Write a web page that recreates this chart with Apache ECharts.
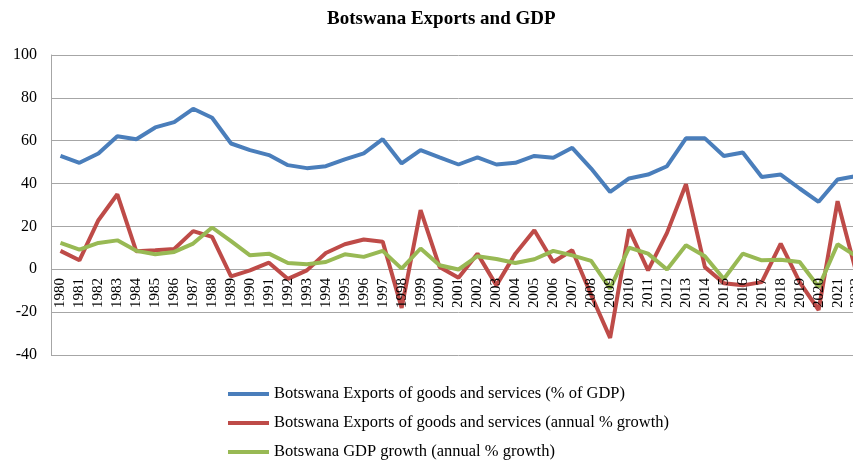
<!DOCTYPE html>
<html>
<head>
<meta charset="utf-8">
<style>html,body{margin:0;padding:0;background:#fff;overflow:hidden;width:853px;height:462px;}#c{width:866px;height:462px;}</style>
<script src="https://cdn.jsdelivr.net/npm/echarts@6/dist/echarts.min.js"></script>
</head>
<body>
<div id="c"></div>
<script>
const years = ['1980','1981','1982','1983','1984','1985','1986','1987','1988','1989','1990','1991','1992','1993','1994','1995','1996','1997','1998','1999','2000','2001','2002','2003','2004','2005','2006','2007','2008','2009','2010','2011','2012','2013','2014','2015','2016','2017','2018','2019','2020','2021','2022'];
const exportsPctGDP = [52.9,49.7,54.0,62.1,60.7,66.2,68.7,74.9,70.7,58.7,55.6,53.3,48.6,47.2,48.1,51.3,54.1,60.7,49.4,55.6,52.2,48.9,52.2,48.9,49.7,52.9,52.0,56.7,47.0,36.1,42.4,44.2,48.1,61.1,61.1,52.9,54.5,43.1,44.2,37.7,31.5,41.9,43.5];
const exportsGrowth = [8.6,4.2,22.9,35.0,8.4,8.9,9.5,17.8,15.1,-3.3,-0.5,3.1,-4.5,-0.5,7.6,11.7,13.9,12.9,-18.0,27.6,1.1,-4.0,7.3,-7.5,7.3,18.2,3.4,8.9,-12.0,-32.0,18.6,-0.5,17.0,39.7,1.0,-6.5,-7.5,-6.0,12.0,-6.0,-19.0,31.8,-2.0];
const gdpGrowth = [12.3,9.2,12.3,13.5,8.6,7.0,8.1,12.0,19.5,13.1,6.5,7.3,2.9,2.3,3.4,7.0,5.8,8.6,0.3,9.7,1.9,-0.1,6.1,4.8,2.9,4.7,8.6,6.5,3.9,-9.0,10.1,7.3,-0.1,11.2,6.1,-4.5,7.3,4.2,4.5,3.4,-8.3,11.7,6.0];
const seriesNames = ['Botswana Exports of goods and services (% of GDP)','Botswana Exports of goods and services (annual % growth)','Botswana GDP growth (annual % growth)'];
const colors = ['#4A7EBB','#BE4B48','#98B954'];
const font = 'Liberation Serif';
const chart = echarts.init(document.getElementById('c'), null, {renderer:'canvas', width:866, height:462});
const mk = (name, data, color) => ({
  name, type:'line', data, symbol:'none', smooth:false,
  lineStyle:{color, width:4}, itemStyle:{color}, z: 2
});
chart.setOption({
  animation:false,
  backgroundColor:'#fff',
  title:{text:'Botswana Exports and GDP', left:327, top:10, padding:0,
    textStyle:{fontFamily:font, fontSize:19, fontWeight:'bold', color:'#000'}},
  grid:{left:51, top:55, right:0, bottom:107, containLabel:false},
  legend:{orient:'vertical', left:228, top:385, padding:0, icon:'rect', itemWidth:41, itemHeight:4,
    itemGap:11, textStyle:{fontFamily:font, fontSize:16.5, color:'#000', lineHeight:18},
    data: seriesNames},
  xAxis:{type:'category', data:years, boundaryGap:true, position:'bottom', offset:-86,
    axisLine:{show:false, onZero:false},
    axisTick:{show:false},
    axisLabel:{interval:0, rotate:90, margin:9, fontFamily:font, fontSize:15, color:'#000'},
    splitLine:{show:false}, z:5},
  yAxis:{type:'value', min:-40, max:100, interval:20,
    axisLine:{show:true, lineStyle:{color:'#a6a6a6', width:1}},
    axisTick:{show:false},
    axisLabel:{fontFamily:font, fontSize:16, color:'#000', margin:14},
    splitLine:{show:true, lineStyle:{color:'#a6a6a6', width:1}}},
  series:[mk(seriesNames[0], exportsPctGDP, colors[0]), mk(seriesNames[1], exportsGrowth, colors[1]), mk(seriesNames[2], gdpGrowth, colors[2])]
});
</script>
</body>
</html>
